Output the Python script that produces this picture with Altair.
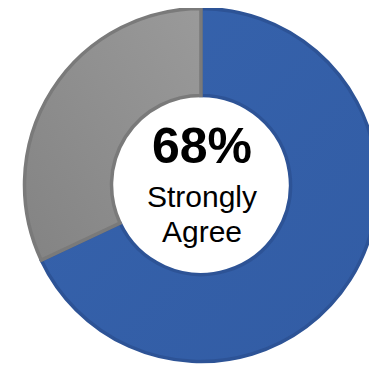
import altair as alt
import pandas as pd

categories = ["Strongly Agree", "Other"]
values = [68, 32]
stroke_colors = ["#2D5396", "#7A7A7A"]
center_value = ["68%"]
center_lines = ["Strongly", "Agree"]

df = pd.DataFrame({"category": categories, "value": values, "order": [0, 1]})
total = sum(values)

CX, CY = 193, 177

base = alt.Chart(df).transform_window(
    cum="sum(value)", sort=[alt.SortField("order")], frame=[None, 0]
).transform_calculate(start="datum.cum - datum.value")

blue_fill = alt.Gradient(
    gradient="linear", x1=0, y1=0, x2=1, y2=1,
    stops=[alt.GradientStop(offset=0, color="#3663AD"),
           alt.GradientStop(offset=1, color="#325CA4")],
)
gray_fill = alt.Gradient(
    gradient="linear", x1=1, y1=0, x2=0, y2=1,
    stops=[alt.GradientStop(offset=0, color="#9A9A9A"),
           alt.GradientStop(offset=1, color="#838383")],
)

def slice_layer(cat, fill, stroke):
    return base.transform_filter(alt.datum.category == cat).mark_arc(
        outerRadius=176.5, innerRadius=89.5, strokeWidth=3.5, fill=fill, stroke=stroke
    ).encode(
        theta=alt.Theta("start:Q", scale=alt.Scale(domain=[0, total])),
        theta2="cum:Q",
        x=alt.value(CX),
        y=alt.value(CY),
    )

blue = slice_layer(categories[0], blue_fill, stroke_colors[0])
gray = slice_layer(categories[1], gray_fill, stroke_colors[1])

big = alt.Chart(pd.DataFrame({"t": center_value})).mark_text(
    font="Liberation Sans", fontSize=50, fontWeight="bold", color="#000000",
    align="center", baseline="alphabetic"
).encode(text="t:N", x=alt.value(CX + 1), y=alt.value(155))

line1 = alt.Chart(pd.DataFrame({"t": center_lines[:1]})).mark_text(
    font="Liberation Sans", fontSize=30, color="#000000",
    align="center", baseline="alphabetic"
).encode(text="t:N", x=alt.value(CX + 1), y=alt.value(199))

line2 = alt.Chart(pd.DataFrame({"t": center_lines[1:]})).mark_text(
    font="Liberation Sans", fontSize=30, color="#000000",
    align="center", baseline="alphabetic"
).encode(text="t:N", x=alt.value(CX + 1), y=alt.value(234))

chart = alt.layer(blue, gray, big, line1, line2).properties(
    width=361, height=357, padding=0, autosize="none"
).configure_view(stroke=None)

chart.save("out.html", embed_options={"renderer": "svg", "actions": False})
